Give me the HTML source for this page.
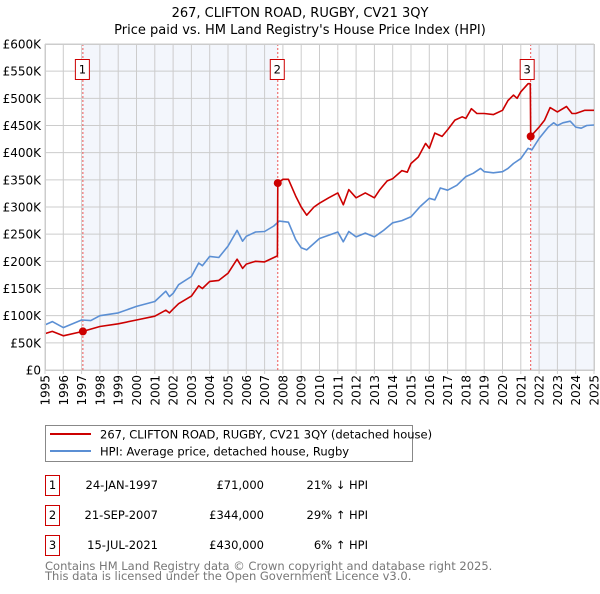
<!DOCTYPE html>
<html><head><meta charset="utf-8"><style>
body{margin:0;background:#fff;font-family:"DejaVu Sans","Liberation Sans",sans-serif;}
svg text{font-family:"DejaVu Sans","Liberation Sans",sans-serif;}
</style></head><body>
<svg id="c" width="600" height="590" viewBox="0 0 600 590" xmlns="http://www.w3.org/2000/svg">
<text x="300" y="17" text-anchor="middle" font-size="13">267, CLIFTON ROAD, RUGBY, CV21 3QY</text>
<text x="300" y="34" text-anchor="middle" font-size="13">Price paid vs. HM Land Registry's House Price Index (HPI)</text>
<g id="plot"></g>
<g>
<rect x="45.5" y="425.5" width="367" height="36" fill="#fff" stroke="#888"/>
<line x1="50" y1="434" x2="91" y2="434" stroke="#cc0000" stroke-width="2"/>
<text x="100" y="438.5" font-size="11.5">267, CLIFTON ROAD, RUGBY, CV21 3QY (detached house)</text>
<line x1="50" y1="451" x2="91" y2="451" stroke="#5b8fd4" stroke-width="2"/>
<text x="100" y="455.5" font-size="11.5">HPI: Average price, detached house, Rugby</text>
</g>
<g font-size="11.5">
<rect x="45.5" y="475.5" width="14" height="20" fill="#fff" stroke="#cc0000"/><text x="52.5" y="489" text-anchor="middle">1</text>
<text x="158" y="489" text-anchor="end">24-JAN-1997</text><text x="264" y="489" text-anchor="end">£71,000</text><text x="368" y="489" text-anchor="end">21% ↓ HPI</text>
<rect x="45.5" y="505.5" width="14" height="20" fill="#fff" stroke="#cc0000"/><text x="52.5" y="519" text-anchor="middle">2</text>
<text x="158" y="519" text-anchor="end">21-SEP-2007</text><text x="264" y="519" text-anchor="end">£344,000</text><text x="368" y="519" text-anchor="end">29% ↑ HPI</text>
<rect x="45.5" y="535.5" width="14" height="20" fill="#fff" stroke="#cc0000"/><text x="52.5" y="549" text-anchor="middle">3</text>
<text x="158" y="549" text-anchor="end">15-JUL-2021</text><text x="264" y="549" text-anchor="end">£430,000</text><text x="368" y="549" text-anchor="end">6% ↑ HPI</text>
</g>
<text x="45" y="570" font-size="11.5" fill="#777">Contains HM Land Registry data © Crown copyright and database right 2025.</text>
<text x="45" y="580" font-size="11.5" fill="#777">This data is licensed under the Open Government Licence v3.0.</text>
</svg>
<script>
const hpiYears=[1995,1995.4,1996,1997,1997.5,1998,1999,2000,2001,2001.6,2001.8,2002,2002.3,2003,2003.4,2003.6,2004,2004.5,2005,2005.5,2005.8,2006,2006.5,2007,2007.5,2007.8,2008.3,2008.7,2009,2009.3,2010,2010.5,2011,2011.3,2011.6,2012,2012.5,2013,2013.5,2014,2014.5,2015,2015.5,2016,2016.3,2016.6,2017,2017.5,2018,2018.4,2018.8,2019,2019.5,2020,2020.3,2020.6,2021,2021.4,2021.6,2022,2022.5,2022.8,2023,2023.3,2023.7,2024,2024.3,2024.6,2025];
const hpiValues=[83,89,78,92,91,100,105,117,126,145,135,141,157,172,197,192,209,207,228,257,237,246,254,255,265,274,272,240,225,221,242,248,254,236,255,245,252,245,257,271,275,282,301,316,313,335,331,340,356,362,371,365,363,365,371,380,389,408,405,426,447,455,450,455,458,447,445,450,451];
const priceYears=[1995,1995.4,1996,1997.07,1998,1999,2000,2001,2001.6,2001.8,2002,2002.3,2003,2003.4,2003.6,2004,2004.5,2005,2005.5,2005.8,2006,2006.5,2007,2007.7,2007.72,2008,2008.3,2008.7,2009,2009.3,2009.7,2010,2010.5,2011,2011.3,2011.6,2012,2012.5,2013,2013.3,2013.7,2014,2014.5,2014.8,2015,2015.4,2015.8,2016,2016.3,2016.7,2017,2017.4,2017.8,2018,2018.3,2018.6,2019,2019.5,2020,2020.3,2020.6,2020.8,2021,2021.4,2021.52,2021.54,2022,2022.3,2022.6,2023,2023.5,2023.8,2024,2024.5,2025];
const priceValues=[67,71,63,71,80,85,92,99,110,105,112,122,136,155,150,163,165,178,204,187,195,200,199,210,344,351,351,320,300,285,300,307,317,326,304,332,317,326,317,332,348,352,367,364,380,392,417,408,436,430,442,460,466,463,481,472,472,470,478,496,506,500,512,527,527,430,447,460,483,475,485,472,472,478,478];
const saleLabels=["1","2","3"];
const saleYears=[1997.07,2007.72,2021.54];
const saleValues=[71,344,430];
const yTicks=[0,50,100,150,200,250,300,350,400,450,500,550,600];
const xTicks=[1995,1996,1997,1998,1999,2000,2001,2002,2003,2004,2005,2006,2007,2008,2009,2010,2011,2012,2013,2014,2015,2016,2017,2018,2019,2020,2021,2022,2023,2024,2025];

const NS="http://www.w3.org/2000/svg";
const X0=45,X1=594,Y0=370,Y1=44;
const xs=v=>X0+(v-1995)/30*(X1-X0);
const ys=v=>Y0-v/600*(Y0-Y1);
const g=document.getElementById('plot');
function mk(t,a){const e=document.createElementNS(NS,t);for(const k in a)e.setAttribute(k,a[k]);g.appendChild(e);return e;}
let e;
e=mk('rect',{x:xs(saleYears[0]),y:Y1,width:xs(saleYears[1])-xs(saleYears[0]),height:Y0-Y1,fill:'#eef2fb',opacity:0.7});


e=mk('rect',{x:xs(saleYears[2]),y:Y1,width:X1-xs(saleYears[2]),height:Y0-Y1,fill:'#eef2fb',opacity:0.7});


yTicks.forEach(v=>{
  e=mk('line',{x1:X0,x2:X1,y1:ys(v),y2:ys(v),stroke:'#ccc','stroke-width':1});
  
  
  e=mk('text',{x:X0-4,y:ys(v)+4.5,'text-anchor':'end','font-size':12});
  e.textContent=v===0?'£0':'£'+v+'K';
  
  
});
xTicks.forEach(v=>{
  e=mk('line',{x1:xs(v),x2:xs(v),y1:Y1,y2:Y0+4,stroke:'#ccc','stroke-width':1});
  
  
  e=mk('text',{x:0,y:0,'text-anchor':'end','font-size':12,transform:`translate(${xs(v)+4.5},375) rotate(-90)`});
  e.textContent=v;
  
  
});
saleYears.forEach((v,i)=>{
  e=mk('line',{x1:xs(v),x2:xs(v),y1:Y1,y2:Y0,stroke:'#e55','stroke-width':1,'stroke-dasharray':'2,2'});
  
  
});
function path(xa,va,col,name){
  const d=xa.map((x,i)=>(i?'L':'M')+xs(x).toFixed(1)+','+ys(va[i]).toFixed(1)).join('');
  e=mk('path',{d:d,fill:'none',stroke:col,'stroke-width':1.6,'stroke-linejoin':'round'});
  
  
}
path(hpiYears,hpiValues,'#5b8fd4','hpi-line');
path(priceYears,priceValues,'#cc0000','price-line');
saleYears.forEach((v,i)=>{
  e=mk('circle',{cx:xs(v),cy:ys(saleValues[i]),r:4,fill:'#cc0000'});
  
  
  const bx=xs(v)-(i===2?3:0);
  e=mk('rect',{x:bx-7.5,y:59.5,width:14,height:20,fill:'#fff',stroke:'#cc0000'});
  
  
  e=mk('text',{x:bx-0.5,y:73.5,'text-anchor':'middle','font-size':11.5});
  e.textContent=saleLabels[i];
  
  
});
e=mk('rect',{x:X0+0.5,y:Y1+0.5,width:X1-X0,height:Y0-Y1,fill:'none',stroke:'#ccc'});


</script>
</body></html>
